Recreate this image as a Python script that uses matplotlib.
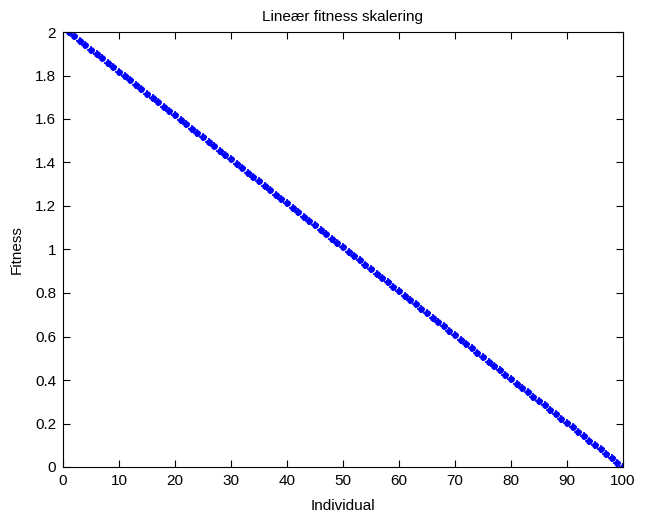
import matplotlib.pyplot as plt
from matplotlib.ticker import FormatStrFormatter, MultipleLocator

# data
individual = list(range(1, 101))
fitness = [2.0000, 1.9798, 1.9596, 1.9394, 1.9192, 1.8990, 1.8788, 1.8586, 1.8384, 1.8182,
           1.7980, 1.7778, 1.7576, 1.7374, 1.7172, 1.6970, 1.6768, 1.6566, 1.6364, 1.6162,
           1.5960, 1.5758, 1.5556, 1.5354, 1.5152, 1.4949, 1.4747, 1.4545, 1.4343, 1.4141,
           1.3939, 1.3737, 1.3535, 1.3333, 1.3131, 1.2929, 1.2727, 1.2525, 1.2323, 1.2121,
           1.1919, 1.1717, 1.1515, 1.1313, 1.1111, 1.0909, 1.0707, 1.0505, 1.0303, 1.0101,
           0.9899, 0.9697, 0.9495, 0.9293, 0.9091, 0.8889, 0.8687, 0.8485, 0.8283, 0.8081,
           0.7879, 0.7677, 0.7475, 0.7273, 0.7071, 0.6869, 0.6667, 0.6465, 0.6263, 0.6061,
           0.5859, 0.5657, 0.5455, 0.5253, 0.5051, 0.4848, 0.4646, 0.4444, 0.4242, 0.4040,
           0.3838, 0.3636, 0.3434, 0.3232, 0.3030, 0.2828, 0.2626, 0.2424, 0.2222, 0.2020,
           0.1818, 0.1616, 0.1414, 0.1212, 0.1010, 0.0808, 0.0606, 0.0404, 0.0202, 0.0000]

plt.rcParams['font.family'] = ['Liberation Sans', 'DejaVu Sans']
plt.rcParams['font.size'] = 11

fig = plt.figure(figsize=(6.46, 5.17), dpi=100)
ax = fig.add_axes([63 / 646, 50 / 517, 560 / 646, 435 / 517])

ax.plot(individual, fitness, linestyle='none', marker='o', markersize=4.8,
        color=(0, 0, 1), markeredgewidth=0)
ax.plot(individual, fitness, linestyle='none', marker='+', markersize=5.5,
        color=(0, 0, 1), markeredgewidth=1.2)

ax.set_xlim(0, 100)
ax.set_ylim(0, 2)
ax.xaxis.set_major_locator(MultipleLocator(10))
ax.yaxis.set_major_locator(MultipleLocator(0.2))
ax.yaxis.set_major_formatter(FormatStrFormatter('%g'))
ax.tick_params(direction='in', top=True, right=True, length=5, width=0.8, pad=5)
for s in ax.spines.values():
    s.set_linewidth(0.8)

ax.set_xlabel('Individual', labelpad=8)
ax.set_ylabel('Fitness', labelpad=8)
ax.set_title('Lineær fitness skalering', fontsize=11, pad=8)

fig.savefig('out.png', dpi=100)
